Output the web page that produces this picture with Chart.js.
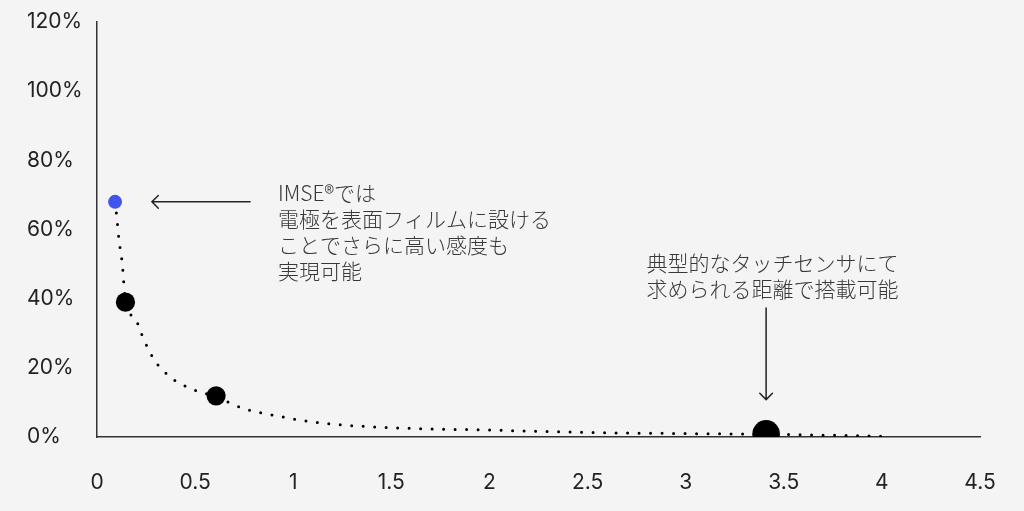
<!DOCTYPE html>
<html><head><meta charset="utf-8">
<script src="https://cdn.jsdelivr.net/npm/chart.js@4/dist/chart.umd.min.js"></script>
<style>html,body{margin:0;padding:0;background:#f4f4f4;}canvas{display:block}</style>
</head><body>
<canvas id="c" width="1024" height="511"></canvas>
<script>
// ---- data ----
const xTickValues = [0, 0.5, 1, 1.5, 2, 2.5, 3, 3.5, 4, 4.5];
const yTickValues = [0, 20, 40, 60, 80, 100, 120];
const curveX = [0.092, 0.100, 0.112, 0.129, 0.145, 0.194, 0.240, 0.292, 0.372, 0.474, 0.607, 0.745, 0.917, 1.15, 1.5, 2.0, 2.62, 3.0, 3.41, 4.02];
const curveY = [68, 64, 57, 50, 39, 34.3, 28, 22.3, 17.4, 14.1, 11.6, 8.3, 6.1, 4.0, 2.7, 2.0, 1.2, 1.0, 0.8, 0.2];
const imseX = [0.092];
const imseY = [68];
const measuredX = [0.145, 0.607];
const measuredY = [39, 11.9];
const typicalX = [3.41];
const typicalY = [0.9];
const note1Lines = ['IMSE®では', '電極を表面フィルムに設ける', 'ことでさらに高い感度も', '実現可能'];
const note2Lines = ['典型的なタッチセンサにて', '求められる距離で搭載可能'];

const toPts = (xs, ys) => xs.map((x, i) => ({x, y: ys[i]}));

const bgPlugin = {
  id: 'bg',
  beforeDraw(chart) {
    const c = chart.ctx;
    c.save(); c.fillStyle = '#f4f4f4'; c.fillRect(0, 0, chart.width, chart.height); c.restore();
  }
};

function arrow(ctx, x1, y1, x2, y2) {
  const a = Math.atan2(y2 - y1, x2 - x1), h = 9;
  ctx.beginPath();
  ctx.moveTo(x1, y1); ctx.lineTo(x2, y2);
  ctx.moveTo(x2 - h * Math.cos(a - Math.PI / 4), y2 - h * Math.sin(a - Math.PI / 4));
  ctx.lineTo(x2, y2);
  ctx.lineTo(x2 - h * Math.cos(a + Math.PI / 4), y2 - h * Math.sin(a + Math.PI / 4));
  ctx.stroke();
}

const notesPlugin = {
  id: 'notes',
  afterDatasetsDraw(chart) {
    const {ctx, scales: {x, y}} = chart;
    ctx.save();
    ctx.strokeStyle = '#222'; ctx.lineWidth = 1.5; ctx.lineCap = 'round';
    arrow(ctx, x.getPixelForValue(0.78), y.getPixelForValue(68), x.getPixelForValue(0.28), y.getPixelForValue(68));
    arrow(ctx, x.getPixelForValue(3.41), y.getPixelForValue(37.3), x.getPixelForValue(3.41), y.getPixelForValue(10.8));
    ctx.fillStyle = '#383838';
    ctx.font = '300 21px "Noto Sans CJK JP"';
    ctx.textBaseline = 'middle'; ctx.textAlign = 'left';
    const lh = 25.8;
    let tx = x.getPixelForValue(0.923), ty = y.getPixelForValue(70.5);
    note1Lines.forEach((t, i) => ctx.fillText(t, tx, ty + i * lh));
    tx = x.getPixelForValue(2.80); ty = y.getPixelForValue(50.3);
    note2Lines.forEach((t, i) => ctx.fillText(t, tx, ty + i * lh));
    ctx.restore();
  }
};

new Chart(document.getElementById('c'), {
  type: 'scatter',
  data: {
    datasets: [
      { label: 'curve', data: toPts(curveX, curveY), showLine: true, pointRadius: 0,
        borderColor: '#000', borderWidth: 3, borderDash: [0, 11.5], borderCapStyle: 'round',
        cubicInterpolationMode: 'monotone', order: 3 },
      { label: 'imse', data: toPts(imseX, imseY), pointRadius: 7, backgroundColor: '#3f55ee', borderWidth: 0, order: 1 },
      { label: 'measured', data: toPts(measuredX, measuredY), pointRadius: 9.6, backgroundColor: '#000', borderWidth: 0, order: 1 },
      { label: 'typical', data: toPts(typicalX, typicalY), pointRadius: 13.8, backgroundColor: '#000', borderWidth: 0, order: 1 }
    ]
  },
  options: {
    responsive: false, animation: false,
    layout: { padding: { left: 27, right: 44, top: 22, bottom: 0 } },
    plugins: { legend: { display: false }, tooltip: { enabled: false } },
    scales: {
      x: {
        type: 'linear', min: 0, max: 4.5,
        afterBuildTicks: s => { s.ticks = xTickValues.map(v => ({value: v})); },
        afterFit: s => { s.height = 74; },
        grid: { display: false },
        border: { display: true, color: '#333', width: 1.5 },
        ticks: { padding: 25, color: '#222', font: { family: 'Inter', size: 21 },
                 callback: v => String(v) }
      },
      y: {
        min: 0, max: 120,
        afterBuildTicks: s => { s.ticks = yTickValues.map(v => ({value: v})); },
        afterFit: s => { s.width = 70; },
        grid: { display: false },
        border: { display: true, color: '#333', width: 1.5 },
        ticks: { crossAlign: 'far', color: '#222', font: { family: 'Inter', size: 21 },
                 callback: v => v + '%' }
      }
    }
  },
  plugins: [bgPlugin, notesPlugin]
});
</script>
</body></html>
